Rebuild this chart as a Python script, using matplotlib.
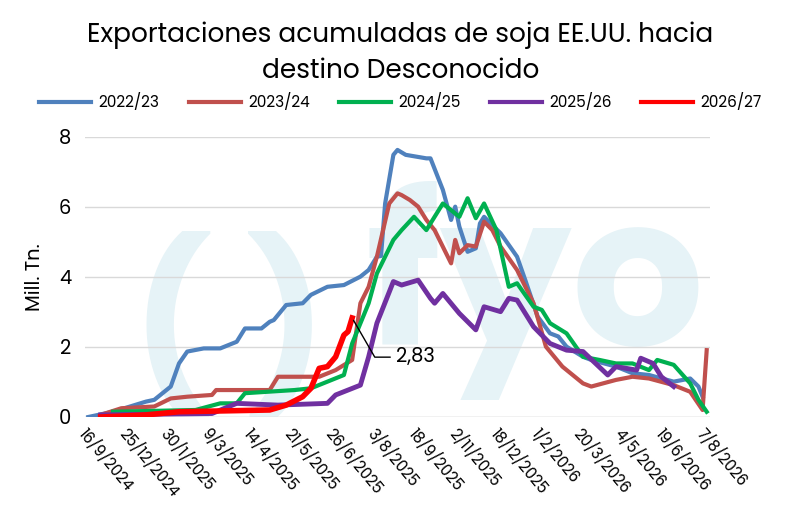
import matplotlib
matplotlib.use("Agg")
import matplotlib.pyplot as plt
from matplotlib.lines import Line2D

tick_labels = ["16/9/2024","25/12/2024","30/1/2025","9/3/2025","14/4/2025","21/5/2025",
               "26/6/2025","3/8/2025","18/9/2025","2/11/2025","18/12/2025","1/2/2026",
               "20/3/2026","4/5/2026","19/6/2026","7/8/2026"]

x_2223 = [0,3,7,8,10,11,12,14,16,18,19,21,22,22.5,24,26,27,29,31,33,34,35,35.5,36,37,37.5,38.5,41,41.5,43,44,44.5,45,46,47,47.5,48,50,52,53,54.5,56,57,58,60,61,64,66,68,71,73,74,74.5]
y_2223 = [0,0.15,0.44,0.49,0.87,1.53,1.87,1.96,1.96,2.15,2.53,2.53,2.72,2.77,3.2,3.25,3.49,3.72,3.77,4.01,4.2,4.58,4.6,6.1,7.49,7.63,7.49,7.39,7.39,6.49,5.63,6.01,5.44,4.72,4.82,5.53,5.72,5.25,4.58,3.91,2.87,2.39,2.3,2.01,1.72,1.63,1.44,1.25,1.2,1.01,1.1,0.87,0.58]

x_2324 = [1.5,4,8,10,12,15,15.5,22,23,28,30,32,33,34,35,36.5,37.5,38,39,40,41,42,44,44.5,45,46,47,48,49,50,52,54,55.5,57.5,60,61,64,66,68,71,73,74.5,75]
y_2324 = [0.06,0.25,0.3,0.53,0.58,0.63,0.77,0.77,1.15,1.15,1.34,1.63,3.25,3.72,4.58,6.1,6.39,6.34,6.2,6.01,5.63,5.34,4.39,5.06,4.68,4.91,4.87,5.58,5.34,4.87,4.2,3.25,2.01,1.44,0.96,0.87,1.06,1.15,1.1,0.91,0.72,0.2,1.91]

x_2425 = [3,13,16,18,19,25,27,29,31,32,34,35,37,38,39.5,41,43,45,46,47,48,49.5,51,52,54,55,56,58,60,62,64,66,68,69,71,73,74,75]
y_2425 = [0.15,0.2,0.39,0.39,0.68,0.77,0.82,1.01,1.2,2.1,3.25,4.1,5.06,5.34,5.72,5.34,6.1,5.72,6.25,5.68,6.1,5.34,3.72,3.82,3.15,3.06,2.68,2.39,1.72,1.63,1.53,1.53,1.34,1.63,1.49,0.96,0.49,0.15]

x_2526 = [1.5,15,18,23,29,30,33,34,35,37,38,40,41.5,42,43,45,47,48,50,51,52,54,56,58,60,63,64,66.5,67,68.5,69.5,71]
y_2526 = [0.06,0.1,0.39,0.34,0.39,0.63,0.91,1.72,2.68,3.87,3.77,3.91,3.39,3.25,3.53,2.96,2.49,3.15,3.01,3.39,3.34,2.58,2.1,1.91,1.87,1.2,1.44,1.34,1.68,1.53,1.15,0.87]

x_2627 = [1.5,7,11,22,24,26,27,28,29,30,31,31.5,32]
y_2627 = [0,0.06,0.15,0.2,0.34,0.58,0.82,1.39,1.44,1.72,2.34,2.44,2.83]

plt.rcParams['font.family'] = ['Poppins', 'Noto Sans', 'DejaVu Sans']

fig = plt.figure(figsize=(8.01, 5.21), dpi=100)
ax = fig.add_axes([85/801, 1-417/521, 625/801, 280/521])

ax.text(0.23, 0.3, "( )", transform=ax.transAxes, ha='center', va='center',
        fontsize=120, color='#e6f3f7', fontweight='bold', zorder=0)
ax.text(0.72, 0.45, "fyo", transform=ax.transAxes, ha='center', va='center',
        fontsize=150, color='#e6f3f7', fontweight='bold', zorder=0)

series = [(x_2223, y_2223, '#4f81bd', 3, '2022/23'),
          (x_2324, y_2324, '#c0504d', 3, '2023/24'),
          (x_2425, y_2425, '#00b050', 3, '2024/25'),
          (x_2526, y_2526, '#7030a0', 3.5, '2025/26'),
          (x_2627, y_2627, '#ff0000', 4, '2026/27')]
for xs, ys, c, lw, lab in series:
    ax.plot(xs, ys, color=c, lw=lw, label=lab, zorder=3, solid_joinstyle='round')

ax.set_ylim(0, 8)
ax.set_xlim(-0.4, 75.4)
ax.set_yticks([0, 2, 4, 6, 8])
ax.yaxis.grid(True, color='#d9d9d9', lw=1)
ax.set_axisbelow(True)
ax.set_xticks(range(0, 76, 5))
ax.set_xticklabels(tick_labels, rotation=-50, ha='left', rotation_mode='anchor', fontsize=11)
ax.tick_params(axis='y', labelsize=14, length=0, pad=10)
ax.tick_params(axis='x', length=0, pad=6)
for s in ax.spines.values():
    s.set_visible(False)
ax.axhline(0, color='#d9d9d9', lw=1, zorder=1)
ax.set_ylabel("Mill. Tn.", fontsize=14, labelpad=10)

ax.annotate("2,83", xy=(x_2627[-1], y_2627[-1]), xytext=(37.3, 1.71),
            fontsize=14, va='center', ha='left',
            arrowprops=dict(arrowstyle='-', color='black', lw=1,
                            connectionstyle='angle,angleA=0,angleB=-60,rad=0'))

fig.text(0.5, 1-35/521, "Exportaciones acumuladas de soja EE.UU. hacia", ha='center', va='center', fontsize=19)
fig.text(0.5, 1-71/521, "destino Desconocido", ha='center', va='center', fontsize=19)

handles = [Line2D([], [], color=c, lw=3) for _, _, c, _, _ in series]
fig.legend(handles, [s[4] for s in series], loc='center', bbox_to_anchor=(0.5, 1-102/521),
           ncol=5, frameon=False, fontsize=11, handlelength=3.4, columnspacing=1.9, handletextpad=0.5)

fig.savefig("out.png", dpi=100, facecolor='white')
